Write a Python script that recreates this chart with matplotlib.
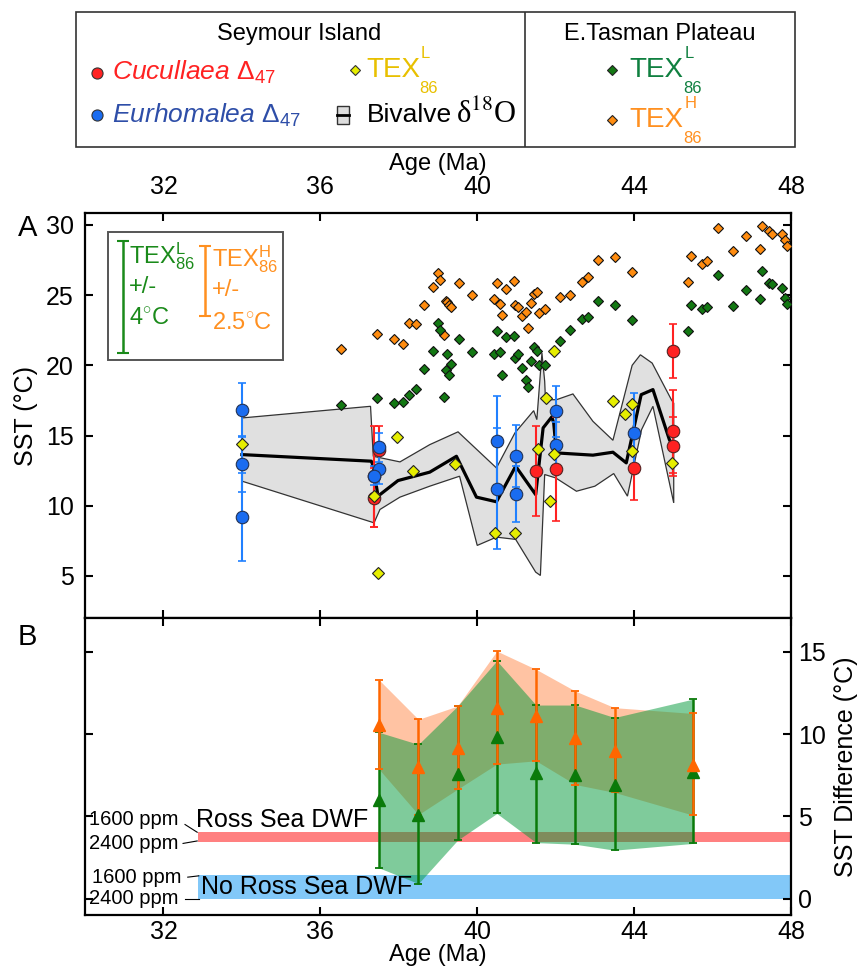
import numpy as np
import matplotlib
matplotlib.use("Agg")
import matplotlib.pyplot as plt
import matplotlib.patches as mpatches

plt.rcParams['font.family'] = ['Liberation Sans', 'DejaVu Sans']
plt.rcParams['mathtext.fontset'] = 'custom'
plt.rcParams['mathtext.rm'] = 'Liberation Sans'
plt.rcParams['mathtext.it'] = 'Liberation Sans:italic'

# ---------------- Panel A data ----------------
# East Tasman Plateau TEX86 (same samples for L and H calibrations)
etp_age = [36.52, 37.44, 37.88, 38.10, 38.26, 38.44, 38.65, 38.86, 39.01, 39.05,
           39.15, 39.20, 39.24, 39.28, 39.32, 39.54, 39.87, 40.43, 40.51, 40.58,
           40.64, 40.74, 40.94, 40.97, 41.04, 41.13, 41.24, 41.30, 41.38, 41.44,
           41.53, 41.58, 41.72, 42.10, 42.36, 42.66, 42.83, 43.07, 43.52, 43.95,
           45.37, 45.46, 45.74, 45.87, 46.14, 46.53, 46.85, 47.21, 47.25, 47.45,
           47.51, 47.77, 47.84, 47.90]
etp_texh = [21.18, 22.22, 21.89, 21.54, 23.00, 22.96, 24.31, 25.61, 26.58, 26.06,
            22.18, 24.60, 24.50, 24.31, 24.12, 25.83, 25.00, 24.74, 25.87, 24.40,
            23.55, 25.47, 25.99, 24.33, 24.14, 23.48, 23.79, 22.67, 24.45, 25.07,
            25.21, 23.74, 23.98, 24.88, 25.02, 25.97, 26.30, 27.51, 27.70, 26.63,
            25.97, 27.77, 27.25, 27.46, 29.76, 28.13, 29.22, 28.25, 29.93, 29.55,
            29.36, 29.36, 28.91, 28.48]
etp_texl = [17.15, 17.70, 17.32, 17.36, 17.88, 18.29, 19.76, 21.01, 23.03, 22.55,
            17.77, 19.66, 20.78, 19.30, 20.11, 21.89, 20.94, 20.78, 22.44, 20.94,
            19.33, 21.99, 22.08, 20.54, 20.78, 19.80, 18.93, 18.48, 20.30, 21.30,
            21.04, 20.02, 19.99, 21.70, 22.48, 23.31, 23.46, 24.57, 24.31, 23.22,
            22.46, 24.33, 23.98, 24.12, 26.40, 24.19, 25.40, 24.71, 26.75, 25.83,
            25.76, 25.52, 24.76, 24.40]

# Seymour Island TEX86 (L)
sey_age = [34.0, 37.38, 37.465, 37.96, 38.35, 39.44, 40.46, 40.96, 41.55, 41.76,
           41.95, 41.96, 41.86, 43.46, 43.77, 43.95, 43.95, 44.96]
sey_texl = [14.4, 10.68, 5.22, 14.87, 12.46, 12.98, 8.07, 8.07, 14.07, 17.69,
            21.01, 13.69, 10.32, 17.46, 16.53, 17.27, 13.88, 13.07]

# Cucullaea clumped isotopes
cuc_age = [37.38, 37.38, 37.49, 41.5, 42.0, 44.0, 45.0, 45.0, 45.0]
cuc_sst = [12.10, 10.56, 14.00, 12.50, 12.62, 12.72, 20.99, 15.30, 14.23]
cuc_err = [3.60, 2.10, 1.70, 3.20, 3.70, 2.30, 1.92, 2.95, 2.10]

# Eurhomalea clumped isotopes
eur_age = [34.0, 34.0, 34.0, 37.49, 37.49, 37.38, 40.5, 40.5, 41.0, 41.0, 42.0, 42.0, 44.0]
eur_sst = [16.82, 12.98, 9.19, 14.16, 12.62, 12.15, 14.64, 11.22, 13.52, 10.84, 16.72, 14.35, 15.20]
eur_err = [1.92, 2.00, 3.13, 1.05, 1.10, 0.70, 3.20, 4.30, 2.20, 2.00, 1.80, 1.60, 2.80]

# Bivalve d18O temperature and its envelope
d18o_age = [34.0, 37.3, 37.35, 37.47, 37.98, 38.79, 39.47, 39.98, 40.49, 40.98,
            41.49, 41.68, 41.90, 41.95, 42.02, 42.95, 43.46, 43.80, 44.18, 44.48,
            44.90, 45.0]
d18o_sst = [13.64, 13.17, 12.81, 10.68, 11.79, 12.39, 13.52, 10.61, 10.28, 12.81,
            10.79, 15.54, 16.32, 15.90, 13.76, 13.60, 13.81, 13.05, 17.91, 18.27,
            14.70, 14.20]
band_hi_age = [34.0, 37.28, 37.35, 38.03, 38.79, 39.51, 40.49, 40.96, 41.44, 41.52,
               41.65, 41.72, 41.74, 42.02, 42.44, 42.95, 43.46, 43.95, 44.16, 44.46,
               44.95, 45.01]
band_hi = [16.25, 17.08, 13.52, 13.12, 14.35, 15.26, 12.69, 15.18, 16.77, 16.13,
           20.87, 18.86, 17.55, 17.55, 17.96, 16.01, 14.66, 20.00, 20.75, 20.16,
           17.55, 17.30]
band_lo_age = [34.0, 37.37, 37.52, 38.03, 38.79, 39.55, 40.0, 40.49, 40.98, 41.49,
               41.61, 41.72, 42.0, 42.53, 43.0, 43.48, 43.83, 44.19, 44.48, 45.01]
band_lo = [11.75, 8.78, 9.73, 10.61, 11.39, 12.10, 7.17, 7.76, 7.60, 5.27,
           5.03, 12.22, 11.98, 11.03, 11.39, 12.29, 10.68, 15.42, 17.08, 10.20]

# ---------------- Panel B data ----------------
diff_age = [37.5, 38.5, 39.5, 40.5, 41.5, 42.5, 43.5, 45.5]
texh_diff = [10.54, 8.00, 9.16, 11.60, 11.11, 9.73, 8.98, 8.10]
texh_lo = [7.85, 5.10, 6.65, 8.17, 8.37, 6.93, 6.45, 5.07]
texh_hi = [13.28, 10.89, 11.70, 15.04, 13.93, 12.61, 11.60, 11.25]
texl_diff = [5.98, 5.07, 7.56, 9.79, 7.60, 7.50, 6.93, 7.70]
texl_lo = [1.86, 0.91, 3.55, 5.17, 3.40, 3.30, 2.94, 3.35]
texl_hi = [10.10, 9.37, 11.70, 14.45, 11.76, 11.76, 11.00, 12.12]

# model SST difference ranges (1600-2400 ppm)
ross_dwf = [3.42, 4.03]
no_ross_dwf = [0.0, 1.42]
model_start_age = 32.88

RED = '#ff2222'
BLUE = '#1a6cf0'
YELLOW = '#e6ee00'
ETP_ORANGE = '#ff8c10'
ETP_GREEN = '#137813'

fig = plt.figure(figsize=(8.63, 9.67), dpi=100)


def tex_label(ax, x, y, sup, color):
    # TEX with a raised superscript and lowered 86 subscript, as in the legend
    ax.text(x, y, 'TEX', color=color, fontsize=20, va='center')
    ax.text(x + 0.076, y + 0.12, sup, color=color, fontsize=12, va='center')
    ax.text(x + 0.074, y - 0.135, '86', color=color, fontsize=12, va='center')


# ---------------- top legend ----------------
lg = fig.add_axes([76 / 863, 1 - 147 / 967, 719 / 863, 135 / 967])
lg.set_xlim(0, 1)
lg.set_ylim(0, 1)
lg.axis('off')
lg.add_patch(mpatches.Rectangle((0, 0), 1, 1, transform=lg.transAxes, fill=False,
                                edgecolor='#333333', lw=1.2, clip_on=False))
lg.plot([0.624, 0.624], [0, 1], color='#333333', lw=1.2)
lg.text(0.31, 0.84, 'Seymour Island', ha='center', va='center', fontsize=17)
lg.text(0.812, 0.84, 'E.Tasman Plateau', ha='center', va='center', fontsize=17)

lg.plot(0.029, 0.55, 'o', ms=8, mfc=RED, mec='#333333', mew=0.8)
lg.text(0.05, 0.55, r'Cucullaea $\Delta_{47}$', color=RED, style='italic',
        fontsize=19, va='center')
lg.plot(0.029, 0.235, 'o', ms=8, mfc=BLUE, mec='#333333', mew=0.8)
lg.text(0.05, 0.235, r'Eurhomalea $\Delta_{47}$', color='#2e4ea8', style='italic',
        fontsize=19, va='center')
lg.plot(0.388, 0.57, 'D', ms=5.5, mfc=YELLOW, mec='#333333', mew=0.8)
tex_label(lg, 0.404, 0.57, 'L', '#e8c000')
lg.add_patch(mpatches.Rectangle((0.363, 0.17), 0.016, 0.13, facecolor='#dddddd',
                                edgecolor='#333333', lw=1))
lg.plot([0.363, 0.379], [0.235, 0.235], color='black', lw=2)
lg.text(0.405, 0.235, 'Bivalve', fontsize=19, va='center')
lg.text(0.528, 0.235, r'δ$^{18}$O', fontsize=22, va='center', math_fontfamily='stix',
        family='Liberation Serif')
lg.plot(0.745, 0.57, 'D', ms=5, mfc=ETP_GREEN, mec='#222222', mew=0.8)
tex_label(lg, 0.77, 0.57, 'L', '#108040')
lg.plot(0.745, 0.2, 'D', ms=5, mfc=ETP_ORANGE, mec='#222222', mew=0.8)
tex_label(lg, 0.77, 0.2, 'H', '#ff9020')

# ---------------- Panel A ----------------
axA = fig.add_axes([85 / 863, 1 - 618 / 967, 706 / 863, 405 / 967])
axA.fill(np.concatenate([band_hi_age, band_lo_age[::-1]]),
         np.concatenate([band_hi, band_lo[::-1]]),
         facecolor='#e0e0e0', edgecolor='#333333', lw=0.9, zorder=1)
axA.plot(d18o_age, d18o_sst, color='black', lw=2.3, zorder=2)

axA.plot(etp_age, etp_texh, 'D', ms=5.2, mfc=ETP_ORANGE, mec='#111111', mew=0.8, zorder=3)
axA.plot(etp_age, etp_texl, 'D', ms=5.2, mfc=ETP_GREEN, mec='#111111', mew=0.8, zorder=3)

axA.errorbar(cuc_age, cuc_sst, yerr=cuc_err, fmt='none', ecolor=RED, elinewidth=1.5,
             capsize=3, capthick=1.2, zorder=4)
axA.errorbar(eur_age, eur_sst, yerr=eur_err, fmt='none', ecolor='#2080ff', elinewidth=1.5,
             capsize=3, capthick=1.2, zorder=4)
axA.plot(cuc_age, cuc_sst, 'o', ms=9, mfc=RED, mec='#552222', mew=0.8, zorder=5)
axA.plot(eur_age, eur_sst, 'o', ms=9, mfc=BLUE, mec='#223355', mew=0.8, zorder=5)
axA.plot(sey_age, sey_texl, 'D', ms=6.3, mfc=YELLOW, mec='#222222', mew=0.8, zorder=6)

# error-size inset
axA.add_patch(mpatches.Rectangle((0.032, 0.637), 0.249, 0.317, transform=axA.transAxes,
                                 facecolor='white', edgecolor='#555555', lw=1.4, zorder=7))
axA.errorbar([30.98], [24.88], yerr=[4.0], fmt='none', ecolor='#1a8a1a', elinewidth=1.8,
             capsize=4, capthick=1.5, zorder=8)
axA.errorbar([33.06], [26.0], yerr=[2.5], fmt='none', ecolor='#ff9020', elinewidth=1.8,
             capsize=4, capthick=1.5, zorder=8)
for txt, yy in [(r'TEX$^{\mathrm{L}}_{\mathrm{86}}$', 0.893), ('+/-', 0.818), ('4$^{\circ}$C', 0.74)]:
    axA.text(0.062, yy, txt, color='#1a8a1a', fontsize=17, va='center',
             transform=axA.transAxes, zorder=9)
for txt, yy in [(r'TEX$^{\mathrm{H}}_{\mathrm{86}}$', 0.885), ('+/-', 0.81), ('2.5$^{\circ}$C', 0.728)]:
    axA.text(0.18, yy, txt, color='#ff9020', fontsize=17, va='center',
             transform=axA.transAxes, zorder=9)

axA.set_xlim(30, 48)
axA.set_ylim(2, 30.85)
axA.set_xticks([32, 36, 40, 44, 48])
axA.set_yticks([5, 10, 15, 20, 25, 30])
axA.tick_params(direction='in', length=6, width=1.5, labelsize=18,
                top=True, bottom=True, left=True, right=True,
                labeltop=True, labelbottom=False)
axA.tick_params(axis='x', pad=10)
axA.tick_params(axis='y', pad=8)
axA.xaxis.set_label_position('top')
axA.set_xlabel('Age (Ma)', fontsize=17, labelpad=4)
axA.set_ylabel('SST (°C)', fontsize=18, labelpad=6)
for s in axA.spines.values():
    s.set_linewidth(1.6)
fig.text(18 / 863, 1 - 228 / 967, 'A', fontsize=21, va='center', ha='left')

# ---------------- Panel B ----------------
axB = fig.add_axes([85 / 863, 1 - 915 / 967, 706 / 863, 297 / 967])
axB.axhspan(ross_dwf[0], ross_dwf[1], xmin=(model_start_age - 30) / 18, xmax=1,
            color='#ff8080', lw=0, zorder=1)
axB.axhspan(no_ross_dwf[0], no_ross_dwf[1], xmin=(model_start_age - 30) / 18, xmax=1,
            color='#82c8f8', lw=0, zorder=1)

axB.fill_between(diff_age, texh_lo, texh_hi, color='#ff6a1a', alpha=0.4, lw=0, zorder=2)
axB.fill_between(diff_age, texl_lo, texl_hi, color='#009939', alpha=0.5, lw=0, zorder=3)

texl_d = np.array(texl_diff)
texh_d = np.array(texh_diff)
axB.errorbar(diff_age, texl_diff, yerr=[texl_d - np.array(texl_lo), np.array(texl_hi) - texl_d],
             fmt='none', ecolor='#0a7a0a', elinewidth=1.8, capsize=3, capthick=1.3, zorder=4)
axB.errorbar(diff_age, texh_diff, yerr=[texh_d - np.array(texh_lo), np.array(texh_hi) - texh_d],
             fmt='none', ecolor='#ff6600', elinewidth=1.8, capsize=3, capthick=1.3, zorder=5)
axB.plot(diff_age, texl_diff, '^', ms=8, color='#0a7a0a', zorder=6)
axB.plot(diff_age, texh_diff, '^', ms=8, color='#ff6600', zorder=6)

axB.text(model_start_age - 0.05, 4.8, 'Ross Sea DWF', fontsize=18, va='center', ha='left')
axB.text(model_start_age + 0.08, 0.68, 'No Ross Sea DWF', fontsize=18, va='center', ha='left')
axB.text(30.1, 4.8, '1600 ppm', fontsize=14.5, va='center', ha='left')
axB.text(30.1, 3.35, '2400 ppm', fontsize=14.5, va='center', ha='left')
axB.text(30.18, 1.25, '1600 ppm', fontsize=14.5, va='center', ha='left')
axB.text(30.1, 0.0, '2400 ppm', fontsize=14.5, va='center', ha='left')
axB.plot([32.55, 32.86], [4.5, 4.03], color='black', lw=0.8)
axB.plot([32.5, 32.86], [3.35, 3.5], color='black', lw=0.8)
axB.plot([32.62, 32.9], [1.3, 1.38], color='black', lw=0.8)
axB.plot([32.55, 32.9], [0.0, 0.0], color='black', lw=0.8)

axB.set_xlim(30, 48)
axB.set_ylim(-1, 17.05)
axB.set_xticks([32, 36, 40, 44, 48])
axB.set_yticks([0, 5, 10, 15])
axB.tick_params(direction='in', length=6, width=1.5, labelsize=18,
                top=True, bottom=True, left=True, right=True,
                labelleft=False, labelright=True)
axB.tick_params(axis='y', pad=5)
axB.yaxis.set_label_position('right')
axB.set_xlabel('Age (Ma)', fontsize=17, labelpad=0)
axB.set_ylabel('SST Difference (°C)', fontsize=18, labelpad=6)
for s in axB.spines.values():
    s.set_linewidth(1.6)
fig.text(18 / 863, 1 - 637 / 967, 'B', fontsize=21, va='center', ha='left')

fig.savefig('out.png', dpi=100)
